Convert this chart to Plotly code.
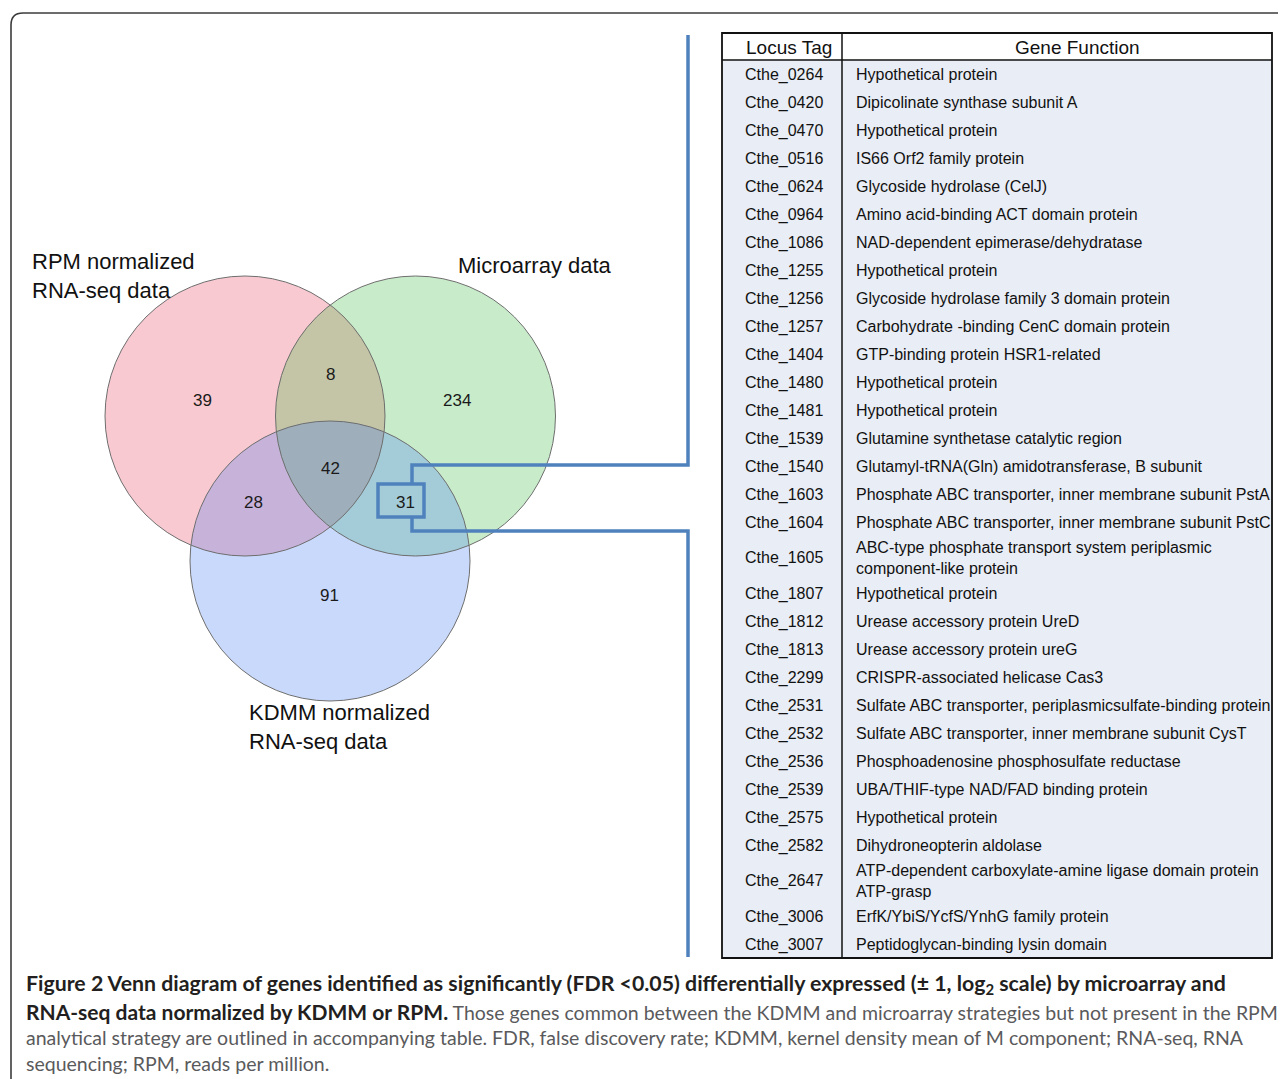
import numpy as np
import plotly.graph_objects as go

W, H = 1286, 1079
PAGE_OFF = 8  # default body margin of the page

# ---------------- data ----------------
set_labels = ["RPM normalized<br>RNA-seq data", "Microarray data", "KDMM normalized<br>RNA-seq data"]
region_members = [(0,), (1,), (2,), (0, 1), (0, 2), (1, 2), (0, 1, 2)]
region_counts = [39, 234, 91, 8, 28, 31, 42]
highlight_region = (1, 2)

table_header = ["Locus Tag", "Gene Function"]
locus_tags = [
    "Cthe_0264", "Cthe_0420", "Cthe_0470", "Cthe_0516", "Cthe_0624", "Cthe_0964",
    "Cthe_1086", "Cthe_1255", "Cthe_1256", "Cthe_1257", "Cthe_1404", "Cthe_1480",
    "Cthe_1481", "Cthe_1539", "Cthe_1540", "Cthe_1603", "Cthe_1604", "Cthe_1605",
    "Cthe_1807", "Cthe_1812", "Cthe_1813", "Cthe_2299", "Cthe_2531", "Cthe_2532",
    "Cthe_2536", "Cthe_2539", "Cthe_2575", "Cthe_2582", "Cthe_2647", "Cthe_3006",
    "Cthe_3007",
]
gene_functions = [
    "Hypothetical protein",
    "Dipicolinate synthase subunit A",
    "Hypothetical protein",
    "IS66 Orf2 family protein",
    "Glycoside hydrolase (CelJ)",
    "Amino acid-binding ACT domain protein",
    "NAD-dependent epimerase/dehydratase",
    "Hypothetical protein",
    "Glycoside hydrolase family 3 domain protein",
    "Carbohydrate -binding CenC domain protein",
    "GTP-binding protein HSR1-related",
    "Hypothetical protein",
    "Hypothetical protein",
    "Glutamine synthetase catalytic region",
    "Glutamyl-tRNA(Gln) amidotransferase, B subunit",
    "Phosphate ABC transporter, inner membrane subunit PstA",
    "Phosphate ABC transporter, inner membrane subunit PstC",
    "ABC-type phosphate transport system periplasmic<br>component-like protein",
    "Hypothetical protein",
    "Urease accessory protein UreD",
    "Urease accessory protein ureG",
    "CRISPR-associated helicase Cas3",
    "Sulfate ABC transporter, periplasmicsulfate-binding protein",
    "Sulfate ABC transporter, inner membrane subunit CysT",
    "Phosphoadenosine phosphosulfate reductase",
    "UBA/THIF-type NAD/FAD binding protein",
    "Hypothetical protein",
    "Dihydroneopterin aldolase",
    "ATP-dependent carboxylate-amine ligase domain protein<br>ATP-grasp",
    "ErfK/YbiS/YcfS/YnhG family protein",
    "Peptidoglycan-binding lysin domain",
]

caption_lines = [
    "<span style='font-size:21.3px'><b>Figure 2 Venn diagram of genes identified as significantly (FDR &lt;0.05) differentially expressed (± 1, log<sub>2</sub> scale) by microarray and</b></span>",
    "<span style='font-size:21px'><b>RNA-seq data normalized by KDMM or RPM.</b></span><span style='color:#5a5a5c'> Those genes common between the KDMM and microarray strategies but not present in the RPM</span>",
    "<span style='color:#5a5a5c'>analytical strategy are outlined in accompanying table. FDR, false discovery rate; KDMM, kernel density mean of M component; RNA-seq, RNA</span>",
    "<span style='color:#5a5a5c'>sequencing; RPM, reads per million.</span>",
]

# ---------------- layout / styles ----------------
circles = [(245.0, 416.0, 140.0), (415.5, 416.0, 140.0), (330.0, 561.0, 140.0)]
region_colors = {
    (0,): "#f9c9d1", (1,): "#c8ecca", (2,): "#c9d9fb",
    (0, 1): "#c4c4a6", (0, 2): "#c7b3da", (1, 2): "#a3ccd8", (0, 1, 2): "#9eafbb",
}
count_pos = {
    (0,): (202, 400), (1,): (457, 400), (2,): (329, 595),
    (0, 1): (330, 374), (0, 2): (253, 502), (1, 2): (405, 502), (0, 1, 2): (330, 468),
}
label_pos = [(30, 276), (456, 265), (247, 727)]

FONT = "Liberation Sans, Arial, sans-serif"
CAP_FONT = "Lato, Roboto, Liberation Sans, sans-serif"
BLUE = "#4f81bd"

shapes = []
annotations = []


def region_path(idx):
    pts = []
    t = np.linspace(0, 2 * np.pi, 1441)
    for i in idx:
        cx, cy, r = circles[i]
        px, py = cx + r * np.cos(t), cy + r * np.sin(t)
        mask = np.ones_like(t, dtype=bool)
        for j in idx:
            if j == i:
                continue
            cx2, cy2, r2 = circles[j]
            mask &= (px - cx2) ** 2 + (py - cy2) ** 2 <= r2 ** 2 + 1e-6
        pts.append(np.c_[px[mask], py[mask]])
    P = np.vstack(pts)
    c = P.mean(axis=0)
    ang = np.arctan2(P[:, 1] - c[1], P[:, 0] - c[0])
    P = P[np.argsort(ang)]
    return "M " + " L ".join(f"{x:.2f},{y:.2f}" for x, y in P) + " Z"


for i, (cx, cy, r) in enumerate(circles):
    shapes.append(dict(type="circle", xref="x", yref="y", x0=cx - r, x1=cx + r, y0=cy - r, y1=cy + r,
                       fillcolor=region_colors[(i,)], line=dict(width=0)))
for idx in [(0, 1), (0, 2), (1, 2), (0, 1, 2)]:
    shapes.append(dict(type="path", xref="x", yref="y", path=region_path(idx),
                       fillcolor=region_colors[idx], line=dict(width=0)))
for cx, cy, r in circles:
    shapes.append(dict(type="circle", xref="x", yref="y", x0=cx - r, x1=cx + r, y0=cy - r, y1=cy + r,
                       fillcolor="rgba(0,0,0,0)", line=dict(color="#6e6e6e", width=1)))

for idx, cnt in zip(region_members, region_counts):
    x, y = count_pos[idx]
    annotations.append(dict(x=x, y=y, xref="x", yref="y", text=str(cnt), showarrow=False,
                            font=dict(family=FONT, size=17, color="#1a1a1a"),
                            xanchor="center", yanchor="middle"))
for lab, (x, y) in zip(set_labels, label_pos):
    annotations.append(dict(x=x, y=y, xref="x", yref="y", text=lab, showarrow=False, align="left",
                            font=dict(family=FONT, size=22, color="#111111"),
                            xanchor="left", yanchor="middle"))

shapes.append(dict(type="rect", xref="x", yref="y", x0=378, x1=424, y0=484, y1=517,
                   line=dict(color=BLUE, width=3.5), fillcolor="rgba(0,0,0,0)"))
shapes.append(dict(type="path", xref="x", yref="y", path="M 688,35 L 688,465 L 412,465 L 412,484",
                   line=dict(color=BLUE, width=3.5)))
shapes.append(dict(type="path", xref="x", yref="y", path="M 412,517 L 412,531 L 688,531 L 688,957",
                   line=dict(color=BLUE, width=3.5)))

# ---------------- table ----------------
TX0, TX1, TDIV = 722, 1272, 842
TY0, THEAD = 33, 60
row_h = [28 if "<br>" not in g else 43 for g in gene_functions]
TY1 = THEAD + sum(row_h)

shapes.append(dict(type="rect", xref="x", yref="y", x0=TX0, x1=TX1, y0=TY0, y1=THEAD,
                   fillcolor="#ffffff", line=dict(width=0)))
shapes.append(dict(type="rect", xref="x", yref="y", x0=TX0, x1=TX1, y0=THEAD, y1=TY1,
                   fillcolor="#e9edf5", line=dict(width=0)))
shapes.append(dict(type="line", xref="x", yref="y", x0=TX0, x1=TX1, y0=THEAD, y1=THEAD,
                   line=dict(color="#111111", width=1.5)))
shapes.append(dict(type="line", xref="x", yref="y", x0=TDIV, x1=TDIV, y0=TY0, y1=TY1,
                   line=dict(color="#111111", width=1.5)))
shapes.append(dict(type="rect", xref="x", yref="y", x0=TX0, x1=TX1, y0=TY0, y1=TY1,
                   fillcolor="rgba(0,0,0,0)", line=dict(color="#111111", width=1.8)))

for txt, xc in zip(table_header, [789, 1077]):
    annotations.append(dict(x=xc, y=(TY0 + THEAD) / 2 + 1, xref="x", yref="y", text=txt,
                            showarrow=False, font=dict(family=FONT, size=19, color="#111111"),
                            xanchor="center", yanchor="middle"))

y = THEAD
for tag, fn, h in zip(locus_tags, gene_functions, row_h):
    yc = y + h / 2 + 0.5
    annotations.append(dict(x=784, y=yc, xref="x", yref="y", text=tag, showarrow=False,
                            font=dict(family=FONT, size=16, color="#111111"),
                            xanchor="center", yanchor="middle"))
    annotations.append(dict(x=854, y=yc, xref="x", yref="y", text=fn, showarrow=False, align="left",
                            font=dict(family=FONT, size=16, color="#111111"),
                            xanchor="left", yanchor="middle"))
    y += h

# ---------------- caption and frame ----------------
cap_y = [984, 1011, 1037, 1063]
for line, cy in zip(caption_lines, cap_y):
    annotations.append(dict(x=24, y=cy, xref="x", yref="y", text=line, showarrow=False, align="left",
                            font=dict(family=CAP_FONT, size=19.5, color="#231f20"),
                            xanchor="left", yanchor="middle"))

shapes.append(dict(type="path", xref="x", yref="y",
                   path="M 11,1100 L 11,25 Q 11,13 23,13 L 1300,13",
                   line=dict(color="#3c3c3c", width=1.6)))

fig = go.Figure()
fig.update_layout(
    width=W - PAGE_OFF, height=H - PAGE_OFF,
    margin=dict(l=0, r=0, t=0, b=0),
    paper_bgcolor="white", plot_bgcolor="white",
    xaxis=dict(range=[PAGE_OFF, W], visible=False, showgrid=False, zeroline=False, fixedrange=True),
    yaxis=dict(range=[H, PAGE_OFF], visible=False, showgrid=False, zeroline=False, fixedrange=True),
    shapes=shapes, annotations=annotations, showlegend=False,
)
fig.write_html("out.html")
